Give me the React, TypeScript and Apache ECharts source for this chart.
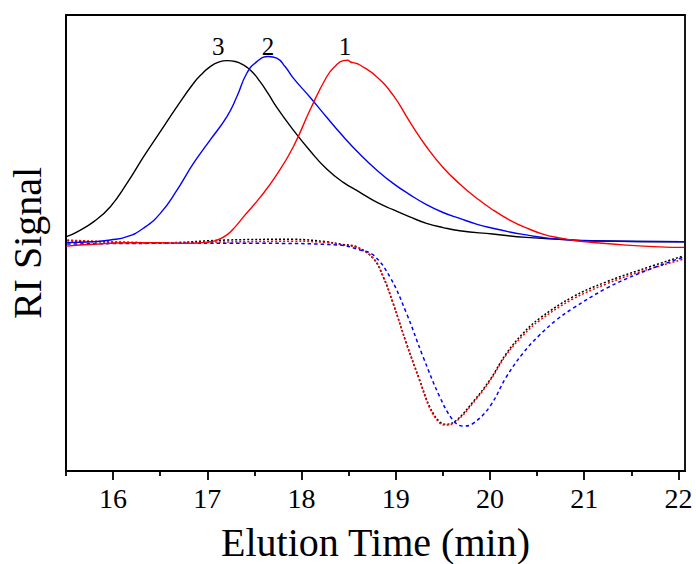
import React, { useEffect, useRef } from "react";
import * as echarts from "echarts";

// Axis ticks
const xMajorTicks = [16, 17, 18, 19, 20, 21, 22];
const xMinorTicks = [15.5, 16.5, 17.5, 18.5, 19.5, 20.5, 21.5];

// Solid curve 3 (black)
const t3 = [15.505, 15.619, 15.795, 15.971, 16.148, 16.324, 16.501, 16.678, 16.854, 16.943, 17.031, 17.119, 17.208, 17.296, 17.383, 17.472, 17.56, 17.648, 17.737, 17.913, 18.09, 18.267, 18.443, 18.62, 18.797, 18.972, 19.149, 19.326, 19.502, 19.679, 20.029, 20.386, 20.738, 21.088, 22.063];
const v3 = [3.6, 6.4, 12.2, 20.7, 34.1, 49.2, 63.5, 77.8, 91.1, 96.4, 100.6, 103.1, 104.0, 103.5, 101.5, 97.8, 92.0, 85.0, 77.3, 64.4, 52.6, 42.2, 34.6, 28.9, 23.3, 19.0, 14.9, 11.2, 8.8, 7.0, 5.1, 3.2, 2.1, 1.3, 0.7];

// Solid curve 2 (blue)
const t2 = [15.505, 15.791, 15.971, 16.148, 16.321, 16.501, 16.678, 16.854, 17.031, 17.208, 17.314, 17.419, 17.525, 17.648, 17.737, 17.825, 17.913, 18.09, 18.267, 18.443, 18.62, 18.797, 18.972, 19.149, 19.326, 19.502, 19.679, 19.856, 20.029, 20.209, 20.386, 20.561, 20.738, 21.088, 22.063];
const v2 = [0.2, 0.7, 1.7, 3.6, 8.4, 16.9, 30.2, 45.5, 58.8, 72.1, 83.5, 96.8, 103.4, 106.3, 105.4, 100.6, 94.0, 83.1, 71.7, 60.7, 50.6, 41.6, 34.0, 27.6, 21.9, 17.4, 14.0, 10.8, 8.4, 6.3, 4.6, 3.1, 2.1, 1.1, 0.7];

// Solid curve 1 (red)
const t1 = [15.505, 15.791, 16.148, 16.501, 16.784, 17.031, 17.119, 17.208, 17.296, 17.383, 17.56, 17.737, 17.913, 18.09, 18.267, 18.355, 18.443, 18.49, 18.52, 18.57, 18.62, 18.797, 18.972, 19.149, 19.326, 19.502, 19.679, 19.856, 20.032, 20.209, 20.386, 20.561, 20.738, 20.915, 21.091, 21.445, 21.798, 22.063];
const v1 = [-1.8, -0.7, 0.1, 0.1, -0.2, 0.7, 2.0, 4.6, 9.2, 14.9, 26.0, 39.0, 54.9, 75.8, 94.8, 100.7, 104.0, 104.2, 103.2, 102.6, 101.5, 94.8, 84.3, 69.1, 54.9, 43.1, 33.7, 25.7, 18.8, 13.1, 8.6, 5.1, 2.9, 1.3, 0.3, -1.2, -2.2, -2.5];

// Lower dotted curve (black)
const tb = [15.513, 16.501, 17.208, 17.91, 18.267, 18.408, 18.585, 18.761, 18.866, 18.972, 19.114, 19.255, 19.361, 19.467, 19.538, 19.644, 19.82, 19.997, 20.174, 20.349, 20.526, 20.879, 21.233, 21.586, 22.044];
const vb = [1.3, 0.1, 1.7, 2.1, 0.7, -0.6, -2.2, -8.8, -19.3, -34.5, -57.3, -78.2, -93.4, -102.0, -103.3, -101.0, -90.6, -78.2, -63.0, -51.6, -43.0, -30.7, -22.2, -15.5, -7.5];

// Lower dotted curve (red)
const tr = [15.513, 16.501, 17.208, 17.91, 18.267, 18.408, 18.585, 18.761, 18.866, 18.972, 19.114, 19.255, 19.361, 19.467, 19.538, 19.644, 19.82, 19.997, 20.174, 20.349, 20.526, 20.879, 21.233, 21.586, 22.044];
const vr = [1.7, 0.1, 0.6, 1.0, 0.3, -0.9, -2.6, -8.6, -18.8, -34.2, -57.7, -78.8, -94.2, -102.7, -103.8, -101.6, -91.3, -78.8, -63.7, -52.8, -44.2, -32.0, -23.4, -16.6, -9.4];

// Lower dashed curve (blue)
const tl = [15.513, 16.501, 17.56, 18.408, 18.62, 18.761, 18.937, 19.114, 19.29, 19.467, 19.608, 19.714, 19.82, 19.997, 20.174, 20.349, 20.526, 20.703, 20.879, 21.233, 21.586, 22.044];
const vl = [-0.6, -0.2, -0.2, -1.2, -4.0, -6.8, -19.2, -40.1, -64.9, -87.7, -101.0, -104.4, -102.9, -93.4, -76.3, -62.9, -52.5, -44.0, -37.3, -25.9, -17.3, -8.2];

// Peak labels
const peakNames = ["3", "2", "1"];
const peakT = [17.115, 17.645, 18.461];
const peakV = [112, 112, 112];

const zip = (t: number[], v: number[]) => t.map((x, i) => [x, v[i]]);

const FONT = "Liberation Serif, Times New Roman, serif";

export default function App() {
  const ref = useRef<HTMLDivElement>(null);

  useEffect(() => {
    if (!ref.current) return;
    const chart = echarts.init(ref.current, undefined, { renderer: "svg" });

    const solid = (name: string, color: string, data: number[][]) => ({
      name,
      type: "line",
      data,
      smooth: 0.5,
      symbol: "none",
      lineStyle: { color, width: 1.4, type: "solid" },
      z: 3,
    });
    const dotted = (name: string, color: string, data: number[][], dash: number[]) => ({
      name,
      type: "line",
      data,
      smooth: 0.4,
      symbol: "none",
      lineStyle: { color, width: 1.5, type: dash },
      z: 2,
    });

    chart.setOption({
      animation: false,
      backgroundColor: "#ffffff",
      grid: {
        left: 66,
        right: 11,
        top: 15,
        bottom: 93,
        show: true,
        borderColor: "#000",
        borderWidth: 1.8,
        backgroundColor: "transparent",
        containLabel: false,
        outerBoundsMode: "none",
      },
      xAxis: [
        {
          type: "value",
          min: 15.5,
          max: 22.07,
          interval: 0.5,
          position: "bottom",
          axisLine: { show: true, onZero: false, lineStyle: { color: "#000", width: 1.8 } },
          axisTick: {
            show: true,
            inside: false,
            length: 9,
            customValues: xMajorTicks,
            lineStyle: { color: "#000", width: 1.8 },
          },
          axisLabel: {
            show: true,
            customValues: xMajorTicks,
            margin: 13,
            color: "#000",
            fontSize: 28,
            fontFamily: FONT,
            formatter: (v: number) => String(v),
          },
          splitLine: { show: false },
          name: "Elution Time (min)",
          nameLocation: "middle",
          nameGap: 51,
          nameTextStyle: { color: "#000", fontSize: 40, fontFamily: FONT },
        },
        {
          type: "value",
          min: 15.5,
          max: 22.07,
          interval: 0.5,
          position: "bottom",
          axisLine: { show: false, onZero: false },
          axisTick: {
            show: true,
            inside: false,
            length: 5,
            customValues: xMinorTicks,
            lineStyle: { color: "#000", width: 1.8 },
          },
          axisLabel: { show: false },
          splitLine: { show: false },
        },
      ],
      yAxis: {
        type: "value",
        min: -130,
        max: 130,
        axisLine: { show: true, onZero: false, lineStyle: { color: "#000", width: 1.8 } },
        axisTick: { show: false },
        axisLabel: { show: false },
        splitLine: { show: false },
        name: "RI Signal",
        nameLocation: "middle",
        nameGap: 19,
        nameTextStyle: { color: "#000", fontSize: 40, fontFamily: FONT },
      },
      series: [
        dotted("lower 3", "#000000", zip(tb, vb), [2, 2]),
        dotted("lower 1", "#ff0000", zip(tr, vr), [2, 2]),
        dotted("lower 2", "#0000ff", zip(tl, vl), [3.5, 3]),
        solid("3", "#000000", zip(t3, v3)),
        solid("2", "#0000ff", zip(t2, v2)),
        solid("1", "#ff0000", zip(t1, v1)),
        {
          name: "peak labels",
          type: "scatter",
          symbolSize: 1,
          itemStyle: { color: "transparent" },
          data: peakNames.map((n, i) => ({ value: [peakT[i], peakV[i]], name: n })),
          label: {
            show: true,
            position: "inside",
            formatter: (p: any) => p.name,
            color: "#000",
            opacity: 1,
            textBorderWidth: 0,
            fontSize: 25,
            fontFamily: FONT,
          },
          z: 5,
        },
      ],
    });

    return () => chart.dispose();
  }, []);

  return (
    <div
      ref={ref}
      style={{ position: "absolute", left: 0, top: 0, width: 696, height: 564, background: "#fff" }}
    />
  );
}
